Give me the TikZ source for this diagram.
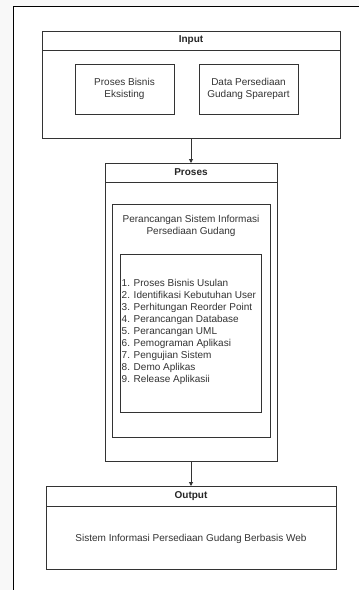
\documentclass[tikz,border=0pt]{standalone}
\usepackage{fontspec}
\setmainfont{Liberation Sans}
\usetikzlibrary{arrows.meta}
\definecolor{pagebg}{HTML}{F8F8F8}
\definecolor{edge}{HTML}{333333}
\begin{document}
\begin{tikzpicture}[x=1pt,y=-1pt,
  box/.style={draw=edge,line width=0.8pt},
  label/.style={font=\fontsize{10}{12}\selectfont,align=center,text=black!80},
  head/.style={font=\fontsize{10}{12}\selectfont\bfseries,text=black!85},
  link/.style={draw=edge,line width=0.9pt,-{Triangle[length=4pt,width=4pt]}}]
\useasboundingbox (0,0) rectangle (359,590);
% page background and white frame
\fill[pagebg] (0,0) rectangle (359,590);
\fill[white] (13,6) rectangle (359,590);
\draw[line width=0.9pt] (359,6) -- (13,6) -- (13,590);

% Input container
\draw[box] (42,31) rectangle (340,138);
\draw[box] (42,50) -- (340,50);
\node[head] (inputhead) at (191,40.5) {Input};
\draw[box] (75,64) rectangle (174,114);
\node[label] (bisnis) at (124.5,89) {Proses Bisnis\\Eksisting};
\draw[box] (199,64) rectangle (298,114);
\node[label] (data) at (248.5,89) {Data Persediaan\\Gudang Sparepart};
\coordinate (inputbot) at (191,138);

% Proses container
\draw[box] (105,163) rectangle (277,461);
\draw[box] (105,182) -- (277,182);
\coordinate (prosestop) at (191,163);
\coordinate (prosesbot) at (191,461);
\node[head] (proseshead) at (191,172.5) {Proses};
\draw[box] (112,204) rectangle (270,437);
\node[label] (perancangan) at (191,225.5) {Perancangan Sistem Informasi\\Persediaan Gudang};
\draw[box] (120,254) rectangle (261,412);
\node[font=\fontsize{10}{11.9}\selectfont,align=left,text=black!80,anchor=north west,inner sep=0pt] (steps) at (121.5,279.5) {%
1. Proses Bisnis Usulan\\
2. Identifikasi Kebutuhan User\\
3. Perhitungan Reorder Point\\
4. Perancangan Database\\
5. Perancangan UML\\
6. Pemograman Aplikasi\\
7. Pengujian Sistem\\
8. Demo Aplikas\\
9. Release Aplikasii};

% Output container
\draw[box] (46,486) rectangle (336,569);
\draw[box] (46,506) -- (336,506);
\coordinate (outputtop) at (191,486);
\node[head] (outputhead) at (191,496) {Output};
\node[label] (hasil) at (191,539) {Sistem Informasi Persediaan Gudang Berbasis Web};

% flow arrows
\draw[link] (inputbot) -- (prosestop);
\draw[link] (prosesbot) -- (outputtop);
\end{tikzpicture}
\end{document}
